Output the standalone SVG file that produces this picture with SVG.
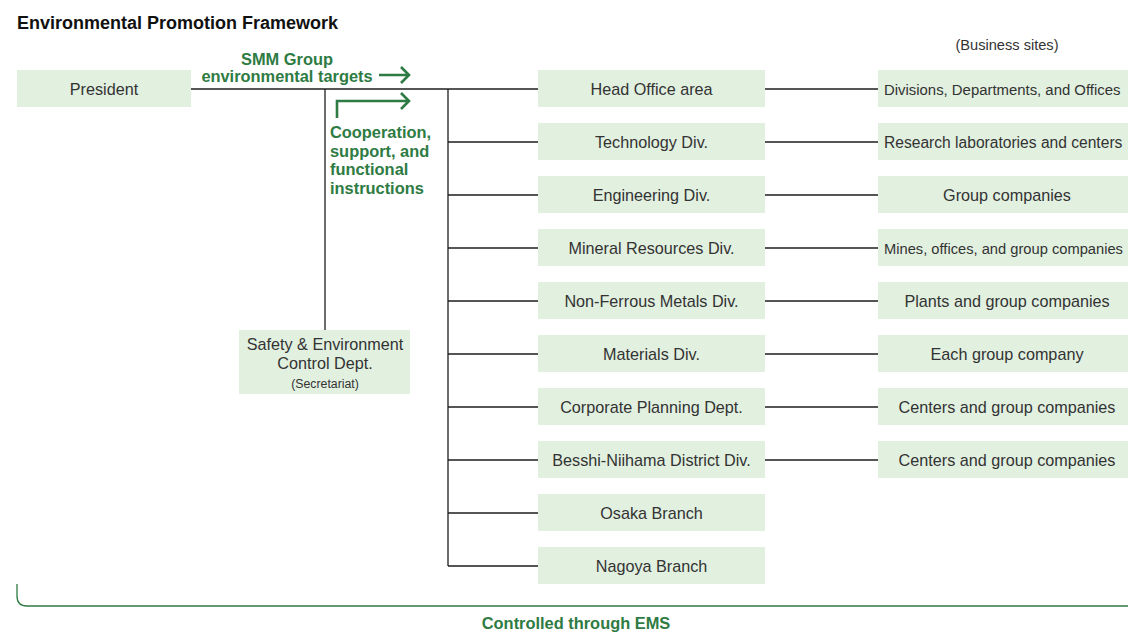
<svg xmlns="http://www.w3.org/2000/svg" width="1128" height="632" viewBox="0 0 1128 632">
  <style>
    .box { fill: #e2f0e0; }
    .lbl { font-family: "Liberation Sans", Arial, sans-serif; font-size: 16.2px; fill: #333; text-anchor: middle; }
    .fit { text-anchor: start; font-size: 14.7px; }
    .small { font-size: 12.3px; }
    .green { font-family: "Liberation Sans", Arial, sans-serif; font-size: 16.4px; font-weight: bold; fill: #2e7b43; }
    .title { font-family: "Liberation Sans", Arial, sans-serif; font-size: 18px; font-weight: bold; fill: #111; }
    .wire { stroke: #1e1e1e; stroke-width: 1.3; fill: none; }
    .garrow { stroke: #2e7b43; stroke-width: 2.6; fill: none; }
    .ems { stroke: #2e7b43; stroke-width: 1.3; fill: none; }
  </style>

  <text class="title" x="17" y="29">Environmental Promotion Framework</text>
  <text class="lbl" x="1007" y="50" style="font-size:14.6px">(Business sites)</text>

  <!-- connectors -->
  <g id="connectors">
    <path class="wire" d="M191,89 H538"/>
    <path class="wire" d="M325,89 V330"/>
    <path class="wire" d="M448,89 V566"/>
    <path class="wire" d="M448,142 H538 M448,195 H538 M448,248 H538 M448,301 H538 M448,354 H538 M448,407 H538 M448,460 H538 M448,513 H538 M448,566 H538"/>
    <path class="wire" d="M765,89 H878 M765,142 H878 M765,195 H878 M765,248 H878 M765,301 H878 M765,354 H878 M765,407 H878 M765,460 H878"/>
    <!-- green flow arrows -->
    <path class="garrow" d="M379,75 H409 M401,67 L409,75 L401,83"/>
    <path class="garrow" d="M337,118 V101 H409 M401,93 L409,101 L401,109"/>
    <!-- EMS bracket -->
    <path class="ems" d="M17,584 V596 Q17,606 27,606 H1128"/>
  </g>

  <text class="green" x="287" y="65" text-anchor="middle">SMM Group</text>
  <text class="green" x="287" y="82" text-anchor="middle">environmental targets</text>
  <text class="green" x="330" y="138">Cooperation,</text>
  <text class="green" x="330" y="157">support, and</text>
  <text class="green" x="330" y="175">functional</text>
  <text class="green" x="330" y="194">instructions</text>
  <text class="green" x="576" y="629" text-anchor="middle">Controlled through EMS</text>

  <g id="president"><rect class="box" x="17" y="70" width="174" height="37"/><text class="lbl" x="104" y="95">President</text></g>

  <g id="safety-env">
    <rect class="box" x="239" y="330" width="171" height="64"/>
    <text class="lbl" x="325" y="350">Safety &amp; Environment</text>
    <text class="lbl" x="325" y="369">Control Dept.</text>
    <text class="lbl small" x="325" y="388">(Secretariat)</text>
  </g>

  <!-- divisions -->
  <g id="head-office"><rect class="box" x="538" y="70" width="227" height="37"/><text class="lbl" x="651.5" y="95">Head Office area</text></g>
  <g id="technology"><rect class="box" x="538" y="123" width="227" height="37"/><text class="lbl" x="651.5" y="148">Technology Div.</text></g>
  <g id="engineering"><rect class="box" x="538" y="176" width="227" height="37"/><text class="lbl" x="651.5" y="201">Engineering Div.</text></g>
  <g id="mineral"><rect class="box" x="538" y="229" width="227" height="37"/><text class="lbl" x="651.5" y="254">Mineral Resources Div.</text></g>
  <g id="non-ferrous"><rect class="box" x="538" y="282" width="227" height="37"/><text class="lbl" x="651.5" y="307">Non-Ferrous Metals Div.</text></g>
  <g id="materials"><rect class="box" x="538" y="335" width="227" height="37"/><text class="lbl" x="651.5" y="360">Materials Div.</text></g>
  <g id="corp-planning"><rect class="box" x="538" y="388" width="227" height="37"/><text class="lbl" x="651.5" y="413">Corporate Planning Dept.</text></g>
  <g id="besshi"><rect class="box" x="538" y="441" width="227" height="37"/><text class="lbl" x="651.5" y="466">Besshi-Niihama District Div.</text></g>
  <g id="osaka"><rect class="box" x="538" y="494" width="227" height="37"/><text class="lbl" x="651.5" y="519">Osaka Branch</text></g>
  <g id="nagoya"><rect class="box" x="538" y="547" width="227" height="37"/><text class="lbl" x="651.5" y="572">Nagoya Branch</text></g>

  <!-- business sites -->
  <g id="site-head"><rect class="box" x="878" y="70" width="250" height="37"/><text class="lbl fit" x="884" y="94.5" style="font-size:14.9px">Divisions, Departments, and Offices</text></g>
  <g id="site-tech"><rect class="box" x="878" y="123" width="250" height="37"/><text class="lbl fit" x="884" y="147.5" style="font-size:15.6px">Research laboratories and centers</text></g>
  <g id="site-eng"><rect class="box" x="878" y="176" width="250" height="37"/><text class="lbl" x="1007" y="201">Group companies</text></g>
  <g id="site-mineral"><rect class="box" x="878" y="229" width="250" height="37"/><text class="lbl fit" x="884" y="253.5">Mines, offices, and group companies</text></g>
  <g id="site-nonferrous"><rect class="box" x="878" y="282" width="250" height="37"/><text class="lbl" x="1007" y="307">Plants and group companies</text></g>
  <g id="site-materials"><rect class="box" x="878" y="335" width="250" height="37"/><text class="lbl" x="1007" y="360">Each group company</text></g>
  <g id="site-planning"><rect class="box" x="878" y="388" width="250" height="37"/><text class="lbl" x="1007" y="413">Centers and group companies</text></g>
  <g id="site-besshi"><rect class="box" x="878" y="441" width="250" height="37"/><text class="lbl" x="1007" y="466">Centers and group companies</text></g>
</svg>
